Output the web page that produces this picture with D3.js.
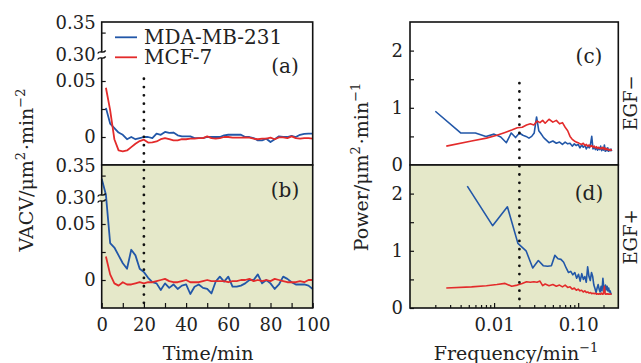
<!DOCTYPE html>
<html>
<head>
<meta charset="utf-8">
<script src="https://cdn.jsdelivr.net/npm/d3@7"></script>
<style>
body { margin: 0; background: #fff; }
text { font-family: "DejaVu Serif", serif; fill: #222; }
</style>
</head>
<body>
<svg id="chart" width="641" height="363"></svg>
<script>
// VACV (left) and power spectrum (right), EGF- on top, EGF+ below

var timeA = [2,4,6,8,10,12,14,16,18,20,22,24,26,28,30,32,34,36,38,40,42,44,46,48,50,
             52,54,56,58,60,62,64,66,68,70,72,74,76,78,80,82,84,86,88,90,92,94,96,98,100];
var timeB = [0].concat(timeA);

// panel (a) EGF-
var vacvBlueA = [0.026,0.012,0.008,0.004,0.002,-0.002,0.000,-0.002,-0.001,0.000,
                 0.000,-0.001,0.003,0.002,0.0045,0.0036,0.004,0.0015,0.0006,0.0006,
                 0.0006,-0.001,-0.001,-0.001,0.000,0.000,0.000,0.000,0.0015,0.002,
                 0.002,0.002,0.002,0.000,0.000,-0.001,-0.003,-0.003,-0.0015,-0.0045,
                 -0.002,0.0006,0.000,0.000,0.001,0.000,0.002,0.0027,0.003,0.003];
var vacvRedA = [0.044,0.024,-0.002,-0.012,-0.0128,-0.012,-0.009,-0.006,-0.0036,-0.0024,
                -0.005,-0.0048,-0.004,-0.002,-0.001,-0.002,-0.003,-0.003,-0.002,-0.002,
                -0.0015,-0.0015,-0.001,-0.001,0.0006,-0.001,-0.0015,-0.001,0.000,0.000,
                -0.0006,-0.0006,-0.0006,-0.0003,-0.0006,-0.0015,-0.002,-0.0015,-0.0015,-0.0006,
                -0.002,-0.0003,-0.0003,-0.001,0.0006,-0.001,-0.0015,-0.001,-0.001,-0.0015];
// panel (b) EGF+
var vacvBlueB = [0.33,0.305,0.033,0.029,0.022,0.015,0.010,0.027,0.022,0.010,
                 0.007,0.002,-0.002,-0.003,-0.009,-0.003,-0.007,-0.004,-0.008,-0.005,
                 -0.004,-0.0125,-0.006,-0.004,-0.007,-0.008,-0.012,-0.0015,0.003,-0.0015,
                 0.003,-0.006,-0.006,-0.005,-0.003,0.000,0.000,0.005,-0.003,0.000,
                 -0.003,-0.008,-0.004,0.003,0.001,-0.002,-0.004,-0.004,-0.004,-0.005,
                 -0.008];
var vacvRedB = [0.021,0.005,-0.003,-0.005,-0.002,-0.004,-0.004,-0.003,-0.002,-0.003,
                -0.002,-0.002,-0.001,0.000,0.001,-0.001,-0.002,-0.002,-0.001,0.000,
                -0.002,-0.002,-0.002,-0.001,0.000,-0.001,-0.001,-0.001,-0.001,-0.002,
                -0.001,-0.001,0.000,0.000,0.001,-0.001,0.000,-0.001,0.000,-0.001,
                0.001,0.000,-0.001,-0.002,-0.002,-0.002,-0.001,-0.002,0.000,0.000];

// frequencies (1/min)
var freqBlueLo = [0.002,0.004,0.006,0.008,0.010,0.012,0.014,0.016,0.018,0.020,
                  0.022,0.024,0.026,0.028,0.030,0.032,0.034,0.036,0.038,0.040];
var freqRedLo = [0.0027,0.0054,0.0081,0.0108,0.0135,0.0162,0.0189,0.0216,0.0243,0.027,
                 0.0297,0.0324,0.0351,0.0378,0.0405];
var freqHi = [0.045,0.050,0.055,0.060,0.065,0.070,0.075,0.080,0.085,0.090,
              0.095,0.100,0.105,0.110,0.115,0.120,0.125,0.130,0.135,0.140,
              0.145,0.150,0.155,0.160,0.165,0.170,0.175,0.180,0.185,0.190,
              0.195,0.200,0.205,0.210,0.215,0.220,0.225,0.230,0.235,0.240,
              0.245,0.250];
var freqBlueD = [0.0048,0.0096,0.0144,0.0192,0.024,0.0288,0.0336,0.0384,0.0432,0.048,
                 0.0528,0.0576,0.0624,0.0672,0.072,0.0768,0.0816,0.0864,0.0912,0.096,
                 0.1008,0.1056,0.1104,0.1152,0.12,0.1248,0.1296,0.1344,0.1392,0.144,
                 0.1488,0.1536,0.1584,0.1632,0.168,0.1728,0.1776,0.1824,0.1872,0.192,
                 0.1968,0.2016,0.2064,0.2112,0.216,0.2208,0.2256,0.2304,0.2352,0.24,
                 0.2448,0.2496];

// panel (c) EGF-
var powBlueC = [0.94,0.56,0.56,0.50,0.54,0.49,0.39,0.56,0.48,0.56,
                0.52,0.50,0.47,0.50,0.56,0.84,0.60,0.55,0.50,0.46,
                0.39,0.42,0.38,0.40,0.36,0.40,0.37,0.38,0.33,0.37,
                0.34,0.36,0.30,0.35,0.31,0.34,0.28,0.33,0.30,0.36,
                0.50,0.28,0.32,0.27,0.31,0.26,0.30,0.27,0.33,0.25,
                0.30,0.26,0.35,0.24,0.29,0.25,0.30,0.24,0.27,0.25,
                0.28,0.24];
var powRedC = [0.33,0.42,0.47,0.52,0.57,0.61,0.65,0.66,0.70,0.72,
               0.70,0.77,0.74,0.78,0.73,
               0.80,0.75,0.78,0.72,0.74,0.66,0.60,0.50,0.45,0.42,
               0.40,0.39,0.37,0.36,0.38,0.34,0.36,0.33,0.35,0.32,
               0.34,0.31,0.33,0.30,0.32,0.29,0.31,0.29,0.30,0.28,
               0.31,0.28,0.30,0.27,0.29,0.27,0.28,0.26,0.27,0.26,
               0.27,0.25];
// panel (d) EGF+
var powBlueD = [2.13,1.44,1.77,1.13,1.00,0.70,0.83,0.74,0.73,0.74,
                0.92,0.86,0.85,0.80,0.70,0.62,0.64,0.58,0.62,0.52,
                0.59,0.47,0.60,0.50,0.55,0.45,0.72,0.55,0.48,0.62,
                0.55,0.40,0.34,0.27,0.35,0.41,0.33,0.28,0.38,0.30,
                0.52,0.35,0.28,0.40,0.32,0.38,0.30,0.35,0.28,0.30,
                0.25,0.24];
var powRedD = [0.35,0.37,0.39,0.41,0.43,0.38,0.40,0.43,0.46,0.45,
               0.46,0.45,0.47,0.39,0.42,
               0.39,0.41,0.38,0.40,0.37,0.40,0.36,0.37,0.33,0.35,
               0.31,0.33,0.30,0.31,0.28,0.30,0.27,0.28,0.26,0.27,
               0.25,0.26,0.25,0.26,0.24,0.25,0.24,0.25,0.24,0.26,
               0.24,0.25,0.38,0.24,0.25,0.24,0.25,0.24,0.24,0.25,
               0.24,0.24];

var seriesNames = ["MDA-MB-231", "MCF-7"];
var colors = ["#2257a8", "#e32b2b"];
var shade = "#e5e8c9";

var svg = d3.select("#chart");

var xT = d3.scaleLinear().domain([0, 100]).range([101.7, 312.7]);
var xF = d3.scaleLog().domain([0.001, 0.3]).range([410, 618.3]);

function styleAxis(g, size) {
    g.attr("font-family", null).attr("font-size", null);
    g.select(".domain").remove();
    g.selectAll("line").attr("stroke", "#111").attr("stroke-width", 1.2);
    g.selectAll("text").attr("font-size", size || 18).attr("fill", "#222");
}

function frame(top, x0, x1) {
    svg.append("rect")
        .attr("x", x0).attr("y", top)
        .attr("width", x1 - x0).attr("height", 143)
        .attr("fill", "none").attr("stroke", "#111").attr("stroke-width", 1.6);
}

function tagText(x, y, s) {
    svg.append("text").attr("x", x).attr("y", y)
        .attr("text-anchor", "middle").attr("font-size", 20).text(s);
}

// left panels with a broken y axis
function vacvPanel(top, lines, shaded, tag, tagY) {
    var vis = {};
    vis.yLo = d3.scaleLinear().domain([0, 0.05]).range([top + 115, top + 59]);
    vis.yHi = d3.scaleLinear().domain([0.30, 0.35]).range([top + 33, top + 1]);
    var yy = function(v) { return v > 0.2 ? vis.yHi(v) : vis.yLo(v); };

    svg.append("rect").attr("x", xT(0)).attr("y", top)
        .attr("width", xT(100) - xT(0)).attr("height", 143)
        .attr("fill", shaded ? shade : "#fff");

    var clipId = "clip-" + tag;
    svg.append("clipPath").attr("id", clipId).append("rect")
        .attr("x", xT(0)).attr("y", top)
        .attr("width", xT(100) - xT(0)).attr("height", 143);

    var line = d3.line().x(function(d) { return xT(d[0]); }).y(function(d) { return yy(d[1]); });
    lines.forEach(function(s, i) {
        svg.append("path")
            .datum(d3.zip(s.t, s.v))
            .attr("clip-path", "url(#" + clipId + ")")
            .attr("d", line)
            .attr("fill", "none")
            .attr("stroke", colors[i])
            .attr("stroke-width", 1.8)
            .attr("stroke-linejoin", "round");
    });

    var fmt = function(d) { return d === 0 ? "0" : d.toFixed(2); };
    svg.append("g").attr("transform", "translate(" + xT(0) + ",0)")
        .call(d3.axisLeft(vis.yLo).tickValues([0, 0.05]).tickFormat(fmt).tickSize(-4).tickPadding(6))
        .call(styleAxis);
    svg.append("g").attr("transform", "translate(" + xT(0) + ",0)")
        .call(d3.axisLeft(vis.yLo).tickValues([0.025]).tickFormat("").tickSize(-4))
        .call(styleAxis);
    svg.append("g").attr("transform", "translate(" + xT(0) + ",0)")
        .call(d3.axisLeft(vis.yHi).tickValues([0.30, 0.35]).tickFormat(fmt).tickSize(0).tickPadding(6))
        .call(styleAxis);
    svg.append("g").attr("transform", "translate(" + xT(0) + ",0)")
        .call(d3.axisLeft(vis.yHi).tickValues([0.335]).tickFormat("").tickSize(-4))
        .call(styleAxis);

    frame(top, xT(0), xT(100));

    // axis break
    var bx = xT(0), by = top + 33;
    svg.append("rect").attr("x", bx - 2).attr("y", by - 3).attr("width", 4).attr("height", 6)
        .attr("fill", shaded ? shade : "#fff");
    [-3, 3].forEach(function(o) {
        svg.append("path")
            .attr("d", "M" + (bx - 4) + "," + (by + o + 1.5) + " C" + (bx - 2) + "," + (by + o - 2.5) +
                  " " + (bx + 1) + "," + (by + o + 2.5) + " " + (bx + 4) + "," + (by + o - 1.5))
            .attr("fill", "none").attr("stroke", "#111").attr("stroke-width", 1.3);
    });

    tagText(285, tagY, tag);
    return vis;
}

function powerPanel(top, lines, shaded, tag, tagY) {
    var vis = {};
    vis.y = d3.scaleLinear().domain([0, 2.5]).range([top + 143, top]);

    svg.append("rect").attr("x", xF(0.001)).attr("y", top)
        .attr("width", xF(0.3) - xF(0.001)).attr("height", 143)
        .attr("fill", shaded ? shade : "#fff");

    var clipId = "clip-" + tag;
    svg.append("clipPath").attr("id", clipId).append("rect")
        .attr("x", xF(0.001)).attr("y", top)
        .attr("width", xF(0.3) - xF(0.001)).attr("height", 143);

    var line = d3.line().x(function(d) { return xF(d[0]); }).y(function(d) { return vis.y(d[1]); });
    lines.forEach(function(s, i) {
        svg.append("path")
            .datum(d3.zip(s.f, s.v))
            .attr("clip-path", "url(#" + clipId + ")")
            .attr("d", line)
            .attr("fill", "none")
            .attr("stroke", colors[i])
            .attr("stroke-width", 1.6)
            .attr("stroke-linejoin", "round");
    });

    svg.append("g").attr("transform", "translate(" + xF(0.001) + ",0)")
        .call(d3.axisLeft(vis.y).tickValues([0, 1, 2]).tickFormat(d3.format("d")).tickSize(-4).tickPadding(7))
        .call(styleAxis);
    svg.append("g").attr("transform", "translate(" + xF(0.001) + ",0)")
        .call(d3.axisLeft(vis.y).tickValues([0.5, 1.5]).tickFormat("").tickSize(-4))
        .call(styleAxis);

    frame(top, xF(0.001), xF(0.3));
    tagText(589, tagY, tag);
    return vis;
}

var pa = vacvPanel(22, [{t: timeA, v: vacvBlueA}, {t: timeA, v: vacvRedA}], false, "(a)", 73);
var pb = vacvPanel(165, [{t: timeB, v: vacvBlueB}, {t: timeA, v: vacvRedB}], true, "(b)", 197);
var pc = powerPanel(22, [{f: freqBlueLo.concat(freqHi), v: powBlueC}, {f: freqRedLo.concat(freqHi), v: powRedC}], false, "(c)", 63);
var pd = powerPanel(165, [{f: freqBlueD, v: powBlueD}, {f: freqRedLo.concat(freqHi), v: powRedD}], true, "(d)", 200);

// bottom axes
svg.append("g").attr("transform", "translate(0,308)")
    .call(d3.axisBottom(xT).tickValues([0, 20, 40, 60, 80, 100]).tickSize(-5).tickPadding(10.5))
    .call(styleAxis);
svg.append("g").attr("transform", "translate(0,308)")
    .call(d3.axisBottom(xT).tickValues([10, 30, 50, 70, 90]).tickFormat("").tickSize(-5))
    .call(styleAxis);
svg.append("g").attr("transform", "translate(0,308)")
    .call(d3.axisBottom(xF).tickValues([0.01, 0.1]).tickFormat(d3.format(".2f")).tickSize(-5).tickPadding(10.5))
    .call(styleAxis);
svg.append("g").attr("transform", "translate(0,308)")
    .call(d3.axisBottom(xF).tickValues([0.002,0.003,0.004,0.005,0.006,0.007,0.008,0.009,
                                         0.02,0.03,0.04,0.05,0.06,0.07,0.08,0.09,0.2])
          .tickFormat("").tickSize(-3))
    .call(styleAxis);

// dotted markers
svg.append("line")
    .attr("x1", xT(20)).attr("x2", xT(20))
    .attr("y1", pa.yLo(0.052)).attr("y2", 307)
    .attr("stroke", "#111").attr("stroke-width", 2.8)
    .attr("stroke-linecap", "round").attr("stroke-dasharray", "0,8.3");
svg.append("line")
    .attr("x1", xF(0.02)).attr("x2", xF(0.02))
    .attr("y1", pc.y(1.43)).attr("y2", 307)
    .attr("stroke", "#111").attr("stroke-width", 2.8)
    .attr("stroke-linecap", "round").attr("stroke-dasharray", "0,8.3");

// legend
seriesNames.forEach(function(n, i) {
    var ly = 37.3 + i * 20;
    svg.append("line").attr("x1", 115).attr("x2", 137).attr("y1", ly).attr("y2", ly)
        .attr("stroke", colors[i]).attr("stroke-width", 1.8);
    svg.append("text").attr("x", 144).attr("y", ly + 7).attr("font-size", 20).text(n);
});

// axis titles
function titleWithSup(g, parts) {
    parts.forEach(function(p) {
        if (p.sup) {
            g.append("tspan").attr("font-size", 13).attr("dy", -8).text(p.sup);
            g.append("tspan").attr("dy", 8).text("\u200A");
        } else {
            g.append("tspan").text(p.s);
        }
    });
}

var tl = svg.append("text").attr("transform", "translate(33,169) rotate(-90)")
    .attr("text-anchor", "middle").attr("font-size", 19);
titleWithSup(tl, [{s: "VACV/\u03BCm"}, {sup: "2"}, {s: "\u00B7min"}, {sup: "\u22122"}]);

var tr = svg.append("text").attr("transform", "translate(368,166) rotate(-90)")
    .attr("text-anchor", "middle").attr("font-size", 19);
titleWithSup(tr, [{s: "Power/\u03BCm"}, {sup: "2"}, {s: "\u00B7min"}, {sup: "\u22121"}]);

svg.append("text").attr("x", 208).attr("y", 360).attr("text-anchor", "middle")
    .attr("font-size", 19).text("Time/min");

var tf = svg.append("text").attr("x", 517).attr("y", 360).attr("text-anchor", "middle")
    .attr("font-size", 19);
titleWithSup(tf, [{s: "Frequency/min"}, {sup: "\u22121"}]);

svg.append("text").attr("transform", "translate(637,103) rotate(-90)")
    .attr("text-anchor", "middle").attr("font-size", 18).text("EGF\u2212");
svg.append("text").attr("transform", "translate(637,237) rotate(-90)")
    .attr("text-anchor", "middle").attr("font-size", 18).text("EGF+");
</script>
</body>
</html>
